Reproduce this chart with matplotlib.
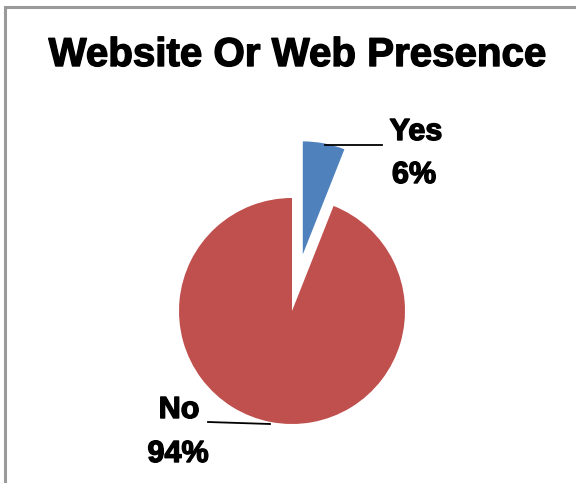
import matplotlib
matplotlib.use("Agg")
import matplotlib.pyplot as plt
from matplotlib.patches import Rectangle
import matplotlib.patheffects as pe

title = "Website Or Web Presence"
categories = ["Yes", "No"]
values = [6, 94]
colors = ["#4F81BD", "#C0504D"]

W, H = 576, 483
fig = plt.figure(figsize=(W / 100, H / 100), dpi=100)
fig.patch.set_facecolor("white")
ax = fig.add_axes([0, 0, 1, 1])

cx, cy, r = 292, H - 311, 113
ax.pie(values, colors=colors, startangle=90, counterclock=False,
       explode=[0.51 * r, 0], center=(cx, cy), radius=r,
       wedgeprops=dict(linewidth=0))
ax.set_xlim(0, W)
ax.set_ylim(0, H)
ax.set_aspect("equal")
ax.axis("off")

# chart border (right/bottom edges lie outside the image)
ax.add_patch(Rectangle((5, -20), W + 20, H - 7 + 20, fill=False,
                       edgecolor="#9a9a9a", linewidth=2.2, clip_on=False))

font = "Liberation Sans"
heavy = [pe.withStroke(linewidth=1.0, foreground="black")]
ax.text(297, H - 55, title, ha="center", va="center", fontsize=29,
        fontweight="bold", family=font, color="black", path_effects=heavy)

total = sum(values)
pct = [f"{round(v * 100 / total)}%" for v in values]

# Yes label
ax.text(416, H - 132, categories[0], ha="center", va="center", fontsize=22,
        fontweight="bold", family=font, path_effects=heavy)
ax.text(414, H - 175, pct[0], ha="center", va="center", fontsize=22,
        fontweight="bold", family=font, path_effects=heavy)
ax.plot([325, 382], [H - 145, H - 145], color="black", linewidth=1.3)

# No label
ax.text(179, H - 410, categories[1], ha="center", va="center", fontsize=22,
        fontweight="bold", family=font, path_effects=heavy)
ax.text(178, H - 454, pct[1], ha="center", va="center", fontsize=22,
        fontweight="bold", family=font, path_effects=heavy)
ax.plot([208, 270], [H - 422, H - 424], color="black", linewidth=1.3)

fig.savefig("out.png", dpi=100, facecolor="white")
